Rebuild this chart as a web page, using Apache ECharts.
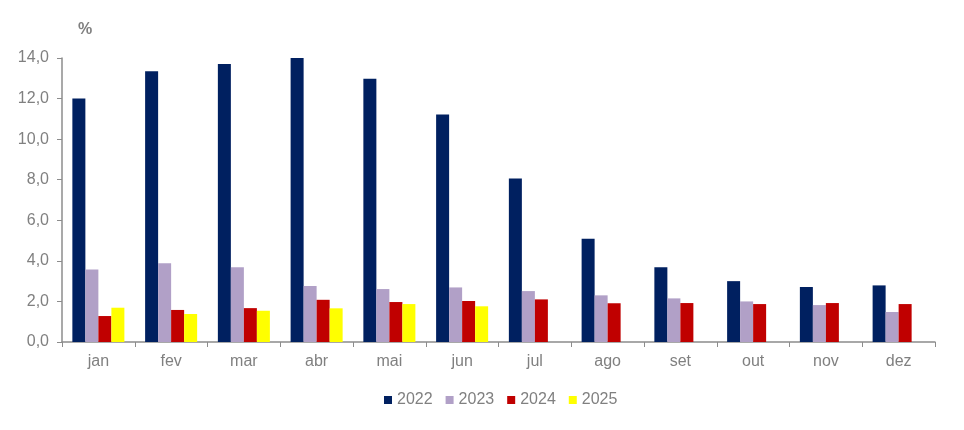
<!DOCTYPE html>
<html><head><meta charset="utf-8">
<script src="https://cdn.jsdelivr.net/npm/echarts@6/dist/echarts.min.js"></script>
<style>html,body{margin:0;padding:0;background:#fff}#c{width:964px;height:430px}</style>
</head><body><div id="c"></div>
<script>
var months = ['jan','fev','mar','abr','mai','jun','jul','ago','set','out','nov','dez'];
var y2022 = [12.0, 13.35, 13.7, 14.02, 12.98, 11.22, 8.06, 5.09, 3.68, 3.0, 2.71, 2.79];
var y2023 = [3.58, 3.88, 3.69, 2.76, 2.61, 2.69, 2.51, 2.30, 2.15, 2.0, 1.82, 1.48];
var y2024 = [1.28, 1.58, 1.67, 2.08, 1.97, 2.02, 2.10, 1.91, 1.92, 1.87, 1.92, 1.87];
var y2025 = [1.69, 1.38, 1.54, 1.66, 1.87, 1.76, null, null, null, null, null, null];
var seriesNames = ['2022','2023','2024','2025'];
var colors = ['#002060','#B1A0C7','#C00000','#FFFF00'];
var dataSets = [y2022, y2023, y2024, y2025];

var chart = echarts.init(document.getElementById('c'));
var font = 'Liberation Sans, Arial, sans-serif';
var txt = '#808080';
chart.setOption({
  animation: false,
  textStyle: {fontFamily: font},
  title: {text: '%', left: 73, top: 17, textStyle: {fontSize: 16, fontWeight: 'bold', color: txt, fontFamily: font}},
  legend: {
    bottom: 17, left: 379, itemWidth: 8, itemHeight: 8, itemGap: 13,
    icon: 'rect',
    textStyle: {fontSize: 16, color: txt, fontFamily: font},
    data: seriesNames
  },
  grid: {left: 62, right: 29, top: 58, bottom: 88},
  xAxis: {
    type: 'category', data: months,
    axisLine: {lineStyle: {color: '#8c8c8c', width: 1.5}},
    axisTick: {show: true, alignWithLabel: false, length: 5, lineStyle: {color: '#8c8c8c'}},
    axisLabel: {fontSize: 16, color: txt, margin: 12, fontFamily: font}
  },
  yAxis: {
    type: 'value', min: 0, max: 14, interval: 2,
    axisLine: {show: true, lineStyle: {color: '#8c8c8c', width: 1.5}},
    axisTick: {show: true, length: 5, lineStyle: {color: '#8c8c8c'}},
    splitLine: {show: false},
    axisLabel: {fontSize: 16, color: txt, margin: 13, fontFamily: font,
      formatter: function(v){ return v.toFixed(1).replace('.', ','); }}
  },
  series: seriesNames.map(function(n, i){
    return {name: n, type: 'bar', data: dataSets[i], barGap: '0%', barCategoryGap: '28.5%',
      itemStyle: {color: colors[i]}};
  })
});
</script></body></html>
